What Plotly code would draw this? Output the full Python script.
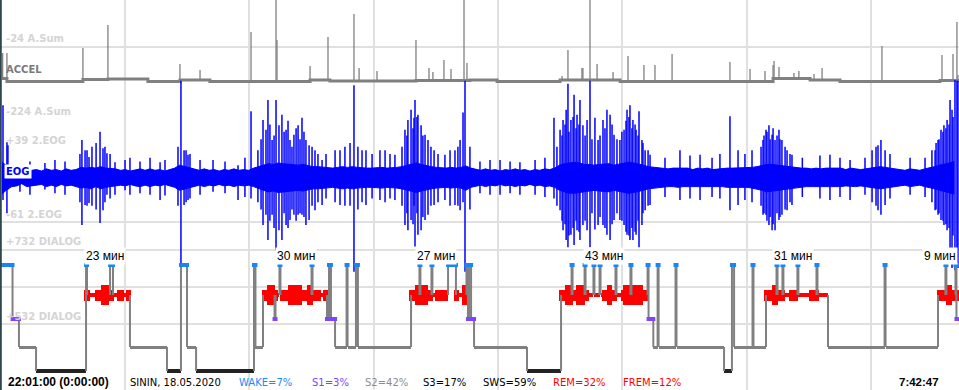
import numpy as np
import plotly.graph_objects as go

# ---------------- data (time in minutes from 22:01:00) ----------------
T_END = 581.8  # 7:42:47

# ACCEL channel (A.Sum): baseline level changes and spikes
accel_base_t = [0.0, 3.0, 49.2, 64.4, 88.7, 108.2, 126.4, 187.3, 199.4, 251.7,
                284.5, 301.0, 339.3, 375.8, 468.8, 491.3, 509.5, 570.3, 581.8]
accel_base_v = [-133.5, -141.6, -136.2, -134.8, -141.6, -137.5, -141.6, -137.5, -140.2, -138.9,
                -137.5, -141.6, -137.5, -141.6, -133.5, -137.5, -141.6, -138.9, -138.9]
accel_spike_t = [0.4, 3.0, 49.2, 64.4, 108.2, 120.4, 151.4, 166.6, 167.2, 187.3,
                 198.2, 214.0, 217.1, 228.0, 251.7, 259.6, 262.0, 268.7, 273.0, 280.9,
                 282.7, 340.5, 344.1, 352.6, 353.2, 357.5, 361.8, 371.5, 380.6, 390.3,
                 397.0, 407.4, 442.6, 454.8, 463.9, 468.8, 469.4, 472.4, 481.5, 484.5,
                 493.7, 498.6, 535.0, 571.5, 578.2, 580.6, 581.2]
accel_spike_v = [-64.5, -64.5, -51.0, 11.1, -94.3, -110.5, -7.8, 120, -29.4, -99.7,
                 -21.3, 40.9, -105.1, -113.2, -29.4, -105.1, -115.9, -83.5, -107.8, 120,
                 -91.6, -126.7, -56.4, -105.1, -105.1, 120, -94.3, -115.9, -72.7, -97.0,
                 -97.0, -67.2, -88.9, -107.8, -113.2, -97.0, -86.2, -102.4, -118.6, -113.2,
                 -121.3, -105.1, -45.6, -70.0, -67.2, 19.2, -124.0]

# EOG channel (2.EOG units): dense-band envelope every 3 minutes
eog_t = np.arange(0, 582, 3.0)
eog_hi = [9, 4, 1, -1, -3, 0, -2, -1, -3, 0,
          -2, -1, -3, 0, -2, -1, 2, 1, 2, 1,
          3, 1, 1, 0, -2, -1, -3, -1, 0, -2,
          0, -2, -1, -3, -1, 1, 5, 3, 1, -1,
          -2, 0, -2, -1, -3, -1, -2, 0, -2, -1,
          -2, 1, 3, 5, 7, 6, 8, 7, 6, 5,
          5, 6, 4, 3, 3, 2, 1, 1, 2, 3,
          2, 3, 2, 1, 1, 1, 2, 2, 1, 1,
          2, 3, 5, 7, 8, 6, 4, 3, 2, 1,
          1, 2, 1, 2, 4, 1, -1, -2, 0, -2,
          -1, -3, -1, -2, 0, -2, -1, -3, -1, -2,
          0, -1, 1, 5, 7, 8, 9, 8, 6, 6,
          5, 6, 6, 7, 5, 6, 7, 9, 8, 7,
          5, 3, 2, 1, 1, 0, 1, 1, 0, 1,
          -1, 1, 0, 1, -1, 0, 1, 1, 1, 1,
          1, 1, 2, 3, 5, 6, 6, 5, 5, 3,
          2, 1, 1, 1, 0, 1, 0, 1, 1, 0,
          1, -1, 1, 0, -1, 0, 1, 2, 3, 2,
          1, 0, -1, -2, 0, -1, -2, 0, 1, 3,
          5, 6, 8, 10]
eog_lo = [-34, -28, -24, -23, -20, -24, -23, -22, -21, -24,
          -22, -24, -21, -23, -22, -24, -26, -25, -27, -24,
          -27, -25, -24, -24, -22, -23, -21, -23, -24, -22,
          -24, -22, -23, -21, -23, -25, -29, -27, -25, -23,
          -22, -24, -22, -23, -21, -23, -22, -24, -22, -23,
          -22, -24, -27, -29, -31, -30, -32, -31, -30, -29,
          -29, -30, -28, -27, -27, -26, -25, -25, -26, -27,
          -26, -27, -26, -25, -25, -25, -26, -26, -25, -25,
          -26, -27, -29, -31, -32, -30, -28, -27, -26, -25,
          -25, -26, -25, -26, -29, -25, -23, -22, -24, -22,
          -23, -21, -23, -22, -24, -22, -23, -21, -23, -22,
          -24, -23, -25, -29, -31, -33, -33, -32, -30, -30,
          -29, -30, -30, -31, -29, -30, -32, -33, -32, -31,
          -29, -27, -26, -25, -24, -24, -24, -25, -24, -24,
          -23, -24, -24, -24, -23, -24, -24, -25, -25, -24,
          -25, -25, -26, -27, -29, -31, -30, -29, -29, -27,
          -26, -25, -25, -24, -24, -24, -24, -25, -24, -24,
          -24, -23, -24, -24, -23, -24, -25, -26, -27, -26,
          -25, -24, -23, -22, -24, -23, -22, -24, -25, -27,
          -29, -31, -32, -34]
# EOG single deflections: time, top value, bottom value
eog_spk_t = [0.6, 3.0, 3.6, 10.9, 26.1, 48.6, 50.5, 52.9, 59.6, 61.4,
             63.8, 68.7, 74.8, 90.0, 96.1, 108.8, 110.7, 113.1, 128.3, 143.5,
             151.4, 158.7, 160.5, 161.7, 164.2, 166.6, 168.4, 170.2, 172.7, 175.1,
             177.5, 180.0, 182.4, 184.8, 186.7, 190.3, 194.6, 205.5, 214.0, 221.3,
             229.8, 238.9, 245.0, 246.8, 248.7, 250.5, 251.1, 252.9, 254.8, 257.2,
             259.0, 262.7, 269.3, 275.4, 278.5, 280.3, 281.5, 296.7, 314.9, 335.6,
             339.3, 341.1, 343.0, 344.1, 345.9, 347.8, 349.6, 351.4, 353.2, 355.7,
             357.5, 360.5, 362.4, 365.4, 367.8, 369.7, 372.1, 375.7, 378.2, 380.0,
             381.8, 383.6, 385.5, 387.3, 389.1, 391.0, 394.0, 412.2, 424.4, 442.6,
             447.5, 462.7, 464.5, 466.3, 468.2, 470.0, 472.4, 474.2, 477.3, 480.3,
             503.4, 515.6, 532.6, 534.4, 536.9, 567.3, 569.1, 570.9, 572.7, 574.6,
             576.4, 577.6, 579.4, 580.6, 581.2,
             155.6, 157.5, 162.9, 165.4, 171.5, 173.9, 176.3, 178.8, 181.2, 183.6,
             188.5, 192.1, 197.0, 243.2, 246.2, 249.9, 252.3, 255.9, 260.8, 265.1,
             337.4, 340.5, 342.3, 344.7, 347.2, 349.0, 350.8, 354.5, 358.7, 363.6,
             366.6, 370.9, 373.9, 376.9, 379.4, 381.2, 383.0, 384.9, 386.7, 389.7,
             392.8, 461.5, 463.3, 465.1, 467.0, 468.8, 471.2, 473.0, 476.1, 479.1,
             565.4, 567.9, 569.7, 572.1, 573.9, 575.8, 578.2, 47.4, 51.7, 54.7,
             57.2, 62.6, 65.7, 107.0, 111.9, 114.3, 202.5, 208.5, 211.6, 216.4,
             218.9, 225.0, 232.9, 235.9, 272.4, 277.2, 284.5, 403.1, 418.3, 431.7,
             436.5, 451.7, 456.0, 486.6, 497.3, 509.5, 524.7, 529.0, 531.4, 539.9,
             552.1, 561.2, 17.0, 32.2, 38.3, 77.8, 83.9, 99.1, 120.4, 135.6,
             147.7, 290.6, 302.8, 308.9, 324.1, 330.1]
eog_spk_hi = [86, 36, 32, 5, 8, 39, 25, 16, 50, 28,
              21, 9, 12, 15, 9, 119, 25, 19, 12, 5,
              78, 66, 53, 93, 39, 93, 59, 73, 53, 39,
              46, 59, 69, 39, 32, 25, 12, 25, 113, 25,
              25, 19, 53, 66, 80, 69, 93, 73, 59, 46,
              39, 25, 19, 25, 39, 76, 119, 12, 9, 69,
              53, 66, 80, 115, 66, 100, 73, 93, 59, 66,
              119, 69, 39, 66, 80, 73, 46, 39, 53, 80,
              86, 66, 53, 78, 39, 25, 19, 25, 19, 71,
              25, 39, 53, 59, 46, 39, 53, 39, 25, 19,
              19, 12, 32, 39, 25, 25, 39, 53, 59, 66,
              93, 80, 120, 119, 119,
              25, 40, 60, 45, 50, 65, 30, 55, 40, 50,
              30, 20, 20, 30, 45, 55, 70, 45, 30, 20,
              30, 45, 60, 50, 70, 55, 60, 45, 40, 45,
              55, 60, 40, 50, 65, 70, 55, 60, 45, 35,
              25, 30, 45, 50, 40, 55, 45, 40, 30, 20,
              25, 35, 40, 50, 55, 60, 70, 20, 25, 30,
              35, 30, 20, 30, 25, 20, 25, 30, 35, 30,
              25, 20, 25, 20, 25, 30, 30, 15, 18, 15,
              20, 20, 25, 15, 18, 15, 15, 25, 30, 20,
              15, 15, 10, 12, 10, 15, 10, 12, 12, 10,
              15, 10, 12, 10, 12, 15]
eog_spk_lo = [-42, -60, -28, -31, -28, -76, -49, -46, -73, -56,
              -35, -35, -29, -35, -42, -130, -49, -42, -31, -42,
              -40, -76, -62, -96, -62, -110, -83, -96, -76, -69,
              -62, -62, -62, -76, -69, -56, -49, -49, -139, -49,
              -42, -42, -76, -83, -69, -50, -105, -89, -83, -69,
              -62, -49, -42, -49, -56, -45, -139, -35, -35, -40,
              -56, -83, -96, -106, -89, -103, -83, -96, -76, -83,
              -106, -82, -76, -76, -89, -96, -69, -69, -76, -89,
              -96, -96, -89, -106, -76, -56, -49, -42, -42, -56,
              -49, -62, -62, -76, -83, -83, -69, -62, -56, -49,
              -42, -42, -56, -62, -49, -56, -62, -69, -76, -83,
              -110, -134, -137, -130, -134,
              -45, -55, -70, -80, -60, -80, -55, -70, -60, -65,
              -50, -45, -40, -50, -60, -75, -60, -65, -50, -45,
              -50, -70, -75, -90, -80, -70, -85, -70, -60, -65,
              -80, -75, -60, -70, -85, -90, -80, -85, -70, -60,
              -50, -50, -60, -70, -65, -75, -60, -65, -55, -45,
              -45, -55, -60, -70, -75, -80, -90, -45, -50, -50,
              -55, -45, -40, -50, -45, -40, -45, -50, -50, -55,
              -45, -40, -45, -40, -50, -50, -55, -38, -40, -38,
              -40, -42, -45, -38, -40, -38, -35, -45, -50, -40,
              -35, -38, -35, -33, -35, -35, -33, -36, -35, -33,
              -38, -33, -35, -33, -35, -38]

# Hypnogram: stage changes (start minute, stage)
hyp_t = [0.0, 6.4, 10.3, 20.7, 51.1, 51.7, 65.7, 67.5, 77.8, 100.3,
         108.8, 112.5, 118.0, 153.2, 154.1, 158.7, 165.7, 166.3, 168.7, 169.3,
         188.2, 188.8, 197.6, 198.8, 200.0, 202.5, 209.5, 210.1, 215.2, 216.4,
         248.7, 253.8, 254.4, 261.1, 261.7, 271.2, 276.0, 282.4, 283.3, 284.2,
         285.2, 287.0, 319.2, 339.9, 346.3, 346.9, 354.2, 354.8, 359.6, 360.2,
         363.3, 363.9, 373.0, 373.6, 382.1, 382.7, 392.5, 393.1, 396.0, 398.6,
         399.2, 409.5, 410.1, 439.0, 443.8, 445.1, 456.3, 456.9, 464.5, 470.9,
         471.5, 474.5, 475.1, 483.6, 484.2, 495.2, 495.8, 502.2, 536.6, 537.2,
         569.1, 573.6, 574.2, 579.7, 580.3]
hyp_stage = ["W", "S1", "S2", "S3", "W", "R", "W", "R", "S2", "S3",
             "W", "S2", "S3", "W", "S2", "R", "S1", "R", "W", "R",
             "W", "R", "S1", "W", "S1", "S2", "W", "S2", "W", "S2",
             "R", "W", "R", "W", "R", "W", "R", "W", "S1", "W",
             "S1", "S2", "S3", "R", "W", "R", "W", "R", "W", "R",
             "W", "R", "W", "R", "W", "R", "W", "S1", "S2", "W",
             "S2", "W", "S2", "S3", "W", "S2", "W", "S2", "R", "W",
             "R", "W", "R", "W", "R", "W", "R", "S2", "W", "S2",
             "R", "W", "R", "W", "S1"]

# REM eye-movement density blocks (start, end, density 1=medium, 2=high)
rem_em_start = [49.9, 56.5, 69.9, 75.4, 158.1, 169.0, 195.2, 247.5, 263.3, 274.8,
                338.7, 364.8, 376.4, 463.3, 478.5, 490.7, 568.5,
                60.2, 161.1, 173.9, 185.4, 251.1, 279.7, 342.3, 349.0, 367.8,
                377.6, 468.2, 574.0]
rem_em_end = [53.5, 68.1, 74.2, 78.4, 167.8, 193.9, 198.2, 262.0, 271.2, 277.9,
              356.9, 373.9, 392.8, 476.1, 483.9, 496.7, 581.8,
              65.1, 166.0, 182.4, 189.1, 259.0, 282.7, 347.2, 354.5, 370.9,
              389.7, 471.8, 577.6]
rem_em_density = [1, 1, 1, 1, 1, 1, 1, 1, 1, 1, 1, 1, 1, 1, 1, 1, 1,
                  2, 2, 2, 2, 2, 2, 2, 2, 2, 2, 2, 2]

# REM period labels
rem_lbl_t = [62.6, 178.8, 263.9, 366.0, 480.9, 570.3]
rem_lbl_txt = ["23 мин", "30 мин", "27 мин", "43 мин", "31 мин", "9 мин"]

# summary statistics
stat_txt = ["WAKE=7%", "S1=3%", "S2=42%", "S3=17%", "SWS=59%", "REM=32%", "FREM=12%"]
start_txt = "22:01:00 (0:00:00)"
patient_txt = "SININ, 18.05.2020"
end_txt = "7:42:47"

# ---------------- style ----------------
W_PX, H_PX = 959, 390
FONT = "Liberation Sans, Arial, sans-serif"
FONT_T = "DejaVu Sans, Verdana, sans-serif"
GRID = "#e0e0e0"
BLUE = "#0000ff"
STAGE_LEVEL = {"W": 0, "R": 30, "S1": 54, "S2": 82, "S3": 106}
STAGE_COLOR = {"W": "#1a86f0", "R": "#ff0000", "S1": "#8044ff", "S2": "#808080", "S3": "#222222"}
STAGE_THICK = {"W": 4, "R": 4, "S1": 4, "S2": 3, "S3": 4}
EM_THICK = {1: 11, 2: 20}
stat_col = ["#1e88ff", "#8044ff", "#8c8c8c", "#000000", "#000000", "#ff0000", "#ff0000"]
stat_left_px = [239, 312, 365, 423, 483, 553, 623]


def px(x):
    return x / W_PX


def py(y):
    return 1 - y / H_PX


fig = go.Figure()
# base subplot (pixel-like scale for horizontal rulers)
fig.add_trace(go.Scatter(x=[], y=[], yaxis="y", showlegend=False))

# ACCEL
fig.add_trace(go.Scatter(x=accel_base_t, y=accel_base_v, mode="lines", yaxis="y2",
                         line=dict(color="#808080", width=3, shape="hv"),
                         hoverinfo="skip", showlegend=False))
bt = np.array(accel_base_t)
sx, sy = [], []
for t, v in zip(accel_spike_t, accel_spike_v):
    i = max(0, np.searchsorted(bt, t, side="right") - 1)
    sx += [t, t, None]
    sy += [accel_base_v[i], v, None]
fig.add_trace(go.Scatter(x=sx, y=sy, mode="lines", yaxis="y2",
                         line=dict(color="#808080", width=1.3),
                         hoverinfo="skip", showlegend=False))

# EOG band
fig.add_trace(go.Scatter(x=eog_t, y=eog_lo, mode="lines", yaxis="y3",
                         line=dict(color=BLUE, width=1),
                         hoverinfo="skip", showlegend=False))
fig.add_trace(go.Scatter(x=eog_t, y=eog_hi, mode="lines", yaxis="y3", fill="tonexty",
                         fillcolor=BLUE, line=dict(color=BLUE, width=1),
                         hoverinfo="skip", showlegend=False))
ex, ey = [], []
for t, h, l in zip(eog_spk_t, eog_spk_hi, eog_spk_lo):
    ex += [t, t, None]
    ey += [l, h, None]
fig.add_trace(go.Scatter(x=ex, y=ey, mode="lines", yaxis="y3",
                         line=dict(color=BLUE, width=1.5),
                         hoverinfo="skip", showlegend=False))

# Hypnogram transitions
vx, vy = [], []
for i in range(1, len(hyp_t)):
    vx += [hyp_t[i], hyp_t[i], None]
    vy += [STAGE_LEVEL[hyp_stage[i - 1]], STAGE_LEVEL[hyp_stage[i]], None]
fig.add_trace(go.Scatter(x=vx, y=vy, mode="lines", yaxis="y4",
                         line=dict(color="#808080", width=2),
                         hoverinfo="skip", showlegend=False))

hyp_end = hyp_t[1:] + [T_END]
for st in ["S2", "S3", "R", "S1", "W"]:
    idx = [i for i, s in enumerate(hyp_stage) if s == st]
    fig.add_trace(go.Bar(
        y=[STAGE_LEVEL[st]] * len(idx),
        x=[hyp_end[i] - hyp_t[i] for i in idx],
        base=[hyp_t[i] for i in idx],
        orientation="h", width=[STAGE_THICK[st]] * len(idx),
        marker=dict(color=STAGE_COLOR[st], line=dict(width=0)),
        yaxis="y4", hoverinfo="skip", showlegend=False))

for d in (1, 2):
    idx = [i for i, v in enumerate(rem_em_density) if v == d]
    fig.add_trace(go.Bar(
        y=[STAGE_LEVEL["R"]] * len(idx),
        x=[rem_em_end[i] - rem_em_start[i] for i in idx],
        base=[rem_em_start[i] for i in idx],
        orientation="h", width=[EM_THICK[d]] * len(idx),
        marker=dict(color="#ff0000", line=dict(width=0)),
        yaxis="y4", hoverinfo="skip", showlegend=False))

for st in ["S1", "W"]:
    mx, my = [], []
    for i, s in enumerate(hyp_stage):
        if s == st:
            mx += [hyp_t[i], hyp_end[i]]
            my += [STAGE_LEVEL[st]] * 2
    fig.add_trace(go.Scatter(x=mx, y=my, mode="markers", yaxis="y4",
                             marker=dict(symbol="square", size=4, color=STAGE_COLOR[st],
                                         line=dict(width=0)),
                             hoverinfo="skip", showlegend=False))

# ---------------- annotations ----------------
ann = []
lab_gray = "#d4d4d4"
for text, y, col, bg in [("-24 A.Sum", 39, lab_gray, None),
                          ("ACCEL", 69, "#7a7a7a", None),
                          ("-224 A.Sum", 112, lab_gray, None),
                          ("+39 2.EOG", 140, lab_gray, None),
                          ("EOG", 171, BLUE, "white"),
                          ("-61 2.EOG", 214, lab_gray, None),
                          ("+732 DIALOG", 241, lab_gray, None),
                          ("+532 DIALOG", 316, lab_gray, None)]:
    a = dict(text=text, xref="paper", yref="paper", x=px(4), y=py(y),
             xanchor="left", yanchor="middle", showarrow=False, borderpad=1,
             font=dict(family=FONT_T, size=10, color=col, weight="bold"))
    if bg:
        a["bgcolor"] = bg
    ann.append(a)

for t, txt in zip(rem_lbl_t, rem_lbl_txt):
    ann.append(dict(text=txt, xref="x", yref="paper", x=t, y=py(255.5),
                    xanchor="center", yanchor="middle", showarrow=False,
                    bgcolor="white", borderpad=1,
                    font=dict(family=FONT, size=12, color="black")))

ann.append(dict(text=start_txt, xref="paper", yref="paper", x=px(6), y=py(382),
                xanchor="left", yanchor="middle", showarrow=False,
                font=dict(family=FONT, size=12, color="black", weight="bold")))
ann.append(dict(text=patient_txt, xref="paper", yref="paper", x=px(128), y=py(382),
                xanchor="left", yanchor="middle", showarrow=False,
                font=dict(family=FONT_T, size=10, color="black")))
for txt, col, lx in zip(stat_txt, stat_col, stat_left_px):
    ann.append(dict(text=txt, xref="paper", yref="paper", x=px(lx - 2), y=py(382),
                    xanchor="left", yanchor="middle", showarrow=False,
                    font=dict(family=FONT_T, size=10, color=col)))
ann.append(dict(text=end_txt, xref="paper", yref="paper", x=px(897), y=py(382),
                xanchor="left", yanchor="middle", showarrow=False,
                font=dict(family=FONT, size=11.5, color="black", weight="bold")))

min_per_px = T_END / 957.0
fig.update_layout(
    width=W_PX, height=H_PX, margin=dict(l=0, r=0, t=0, b=0),
    paper_bgcolor="white", plot_bgcolor="white", barmode="overlay",
    bargap=0, showlegend=False, hovermode=False,
    xaxis=dict(range=[-2 * min_per_px, T_END + 0.05], tickmode="linear", tick0=74.8, dtick=75.6,
               showgrid=True, gridcolor=GRID, gridwidth=2, showticklabels=False,
               zeroline=False, showline=False, ticks="", fixedrange=True),
    yaxis=dict(range=[390, 0], tickmode="array", tickvals=[47, 222, 250, 287, 324],
               showgrid=True, gridcolor=GRID, gridwidth=2, showticklabels=False,
               zeroline=False, showline=False, ticks="", fixedrange=True),
    yaxis2=dict(overlaying="y", range=[-975.4, 78.7], visible=False, fixedrange=True),
    yaxis3=dict(overlaying="y", range=[-298.85, 228.2], visible=False, fixedrange=True),
    yaxis4=dict(overlaying="y", range=[125, -265], visible=False, fixedrange=True),
    annotations=ann,
    shapes=[dict(type="rect", xref="paper", yref="paper", x0=0, x1=px(1.8), y0=0, y1=1,
                 fillcolor="#2f474c", line=dict(width=0), layer="above")],
)

fig.write_html("out.html", config={"displayModeBar": False})
